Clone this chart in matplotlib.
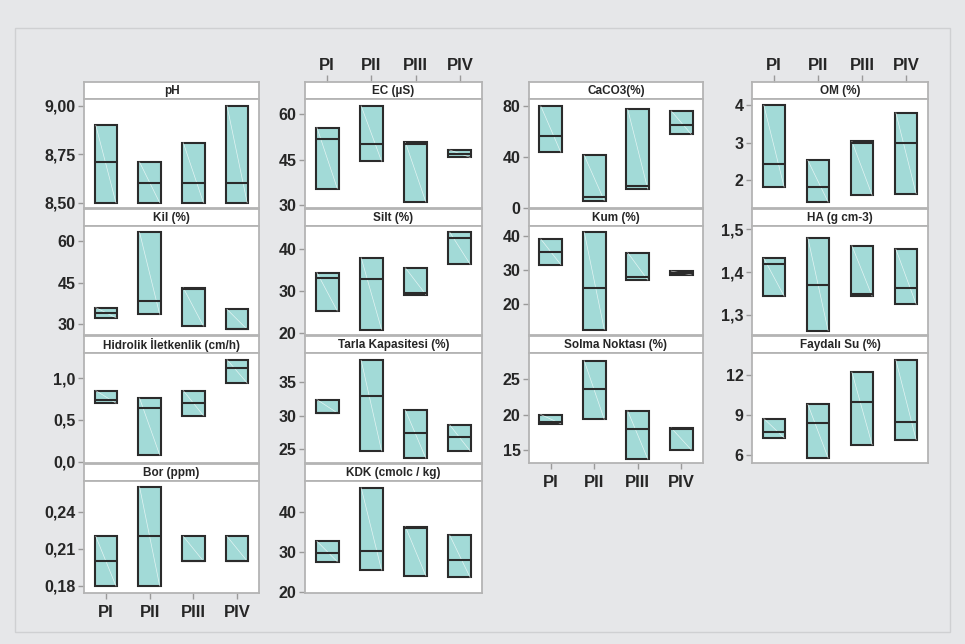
import numpy as np
import matplotlib.pyplot as plt
from matplotlib.patches import Rectangle

plt.rcParams['font.family'] = ['Liberation Sans', 'DejaVu Sans']

groups = ['PI', 'PII', 'PIII', 'PIV']

# alt sınır / medyan / üst sınır
ph_low = [8.50, 8.50, 8.50, 8.50]
ph_med = [8.71, 8.60, 8.60, 8.60]
ph_high = [8.90, 8.71, 8.81, 9.00]

kil_low = [32.4, 33.6, 29.4, 28.2]
kil_med = [34.1, 38.5, 42.7, 28.2]
kil_high = [36.0, 63.0, 43.1, 35.4]

hid_low = [0.70, 0.08, 0.55, 0.94]
hid_med = [0.74, 0.64, 0.70, 1.12]
hid_high = [0.85, 0.76, 0.85, 1.22]

bor_low = [0.18, 0.18, 0.20, 0.20]
bor_med = [0.20, 0.22, 0.20, 0.20]
bor_high = [0.22, 0.26, 0.22, 0.22]

ec_low = [35.5, 44.5, 31.1, 45.8]
ec_med = [51.8, 50.2, 50.3, 47.0]
ec_high = [55.6, 62.7, 50.7, 48.2]

silt_low = [25.3, 20.9, 29.2, 36.4]
silt_med = [33.2, 32.8, 29.5, 42.7]
silt_high = [34.4, 37.9, 35.5, 44.0]

tarla_low = [30.4, 24.7, 23.6, 24.7]
tarla_med = [30.4, 32.9, 27.4, 26.8]
tarla_high = [32.4, 38.3, 30.8, 28.6]

kdk_low = [27.5, 25.4, 24.0, 23.6]
kdk_med = [29.6, 30.1, 35.9, 27.8]
kdk_high = [32.6, 45.9, 36.2, 34.1]

caco3_low = [43.6, 5.5, 14.6, 57.7]
caco3_med = [56.6, 8.1, 17.4, 64.7]
caco3_high = [80.0, 41.1, 77.4, 76.1]

kum_low = [31.5, 12.5, 27.0, 28.5]
kum_med = [35.1, 24.8, 28.0, 29.0]
kum_high = [39.0, 41.0, 35.0, 29.6]

solma_low = [18.7, 19.3, 13.7, 15.0]
solma_med = [18.95, 23.6, 17.9, 17.9]
solma_high = [20.0, 27.6, 20.5, 18.1]

om_low = [1.82, 1.42, 1.60, 1.64]
om_med = [2.43, 1.82, 3.00, 3.00]
om_high = [4.00, 2.53, 3.04, 3.80]

ha_low = [1.344, 1.263, 1.344, 1.325]
ha_med = [1.420, 1.370, 1.350, 1.362]
ha_high = [1.432, 1.480, 1.462, 1.454]

fs_low = [7.29, 5.77, 6.76, 7.14]
fs_med = [7.75, 8.43, 9.95, 8.50]
fs_high = [8.73, 9.80, 12.23, 13.14]

# (sütun, satır, başlık, alt, medyan, üst, y sınırları, y çentikleri, etiketler)
panels = [
    (0, 0, 'pH', ph_low, ph_med, ph_high, (8.473, 9.036), [8.50, 8.75, 9.00], ['8,50', '8,75', '9,00']),
    (0, 1, 'Kil (%)', kil_low, kil_med, kil_high, (26.2, 65.3), [30, 45, 60], ['30', '45', '60']),
    (0, 2, 'Hidrolik İletkenlik (cm/h)', hid_low, hid_med, hid_high, (-0.016, 1.30), [0.0, 0.5, 1.0], ['0,0', '0,5', '1,0']),
    (0, 3, 'Bor (ppm)', bor_low, bor_med, bor_high, (0.1743, 0.2647), [0.18, 0.21, 0.24], ['0,18', '0,21', '0,24']),
    (1, 0, 'EC (µS)', ec_low, ec_med, ec_high, (29.1, 65.0), [30, 45, 60], ['30', '45', '60']),
    (1, 1, 'Silt (%)', silt_low, silt_med, silt_high, (19.6, 45.45), [20, 30, 40], ['20', '30', '40']),
    (1, 2, 'Tarla Kapasitesi (%)', tarla_low, tarla_med, tarla_high, (22.88, 39.4), [25, 30, 35], ['25', '30', '35']),
    (1, 3, 'KDK (cmolc / kg)', kdk_low, kdk_med, kdk_high, (19.7, 47.6), [20, 30, 40], ['20', '30', '40']),
    (2, 0, 'CaCO3(%)', caco3_low, caco3_med, caco3_high, (-0.3, 85.5), [0, 40, 80], ['0', '40', '80']),
    (2, 1, 'Kum (%)', kum_low, kum_med, kum_high, (10.9, 42.8), [20, 30, 40], ['20', '30', '40']),
    (2, 2, 'Solma Noktası (%)', solma_low, solma_med, solma_high, (13.14, 28.7), [15, 20, 25], ['15', '20', '25']),
    (3, 0, 'OM (%)', om_low, om_med, om_high, (1.26, 4.17), [2, 3, 4], ['2', '3', '4']),
    (3, 1, 'HA (g cm-3)', ha_low, ha_med, ha_high, (1.253, 1.508), [1.3, 1.4, 1.5], ['1,3', '1,4', '1,5']),
    (3, 2, 'Faydalı Su (%)', fs_low, fs_med, fs_high, (5.39, 13.67), [6, 9, 12], ['6', '9', '12']),
]

W, H = 965, 644
col_x = [(84, 259), (305, 482), (529, 703), (752, 928)]
strip_top = [82, 209, 336, 464]
strip_h = 17
row_bottom = [208, 335, 463, 593]

bg = '#e6e7e9'
frame = '#b4b4b4'
fill = '#a2dad7'
edge = '#2b2b2b'
txt = '#262626'


def px_axes(fig, x0, y0, x1, y1):
    return fig.add_axes([x0 / W, 1 - y1 / H, (x1 - x0) / W, (y1 - y0) / H])


fig = plt.figure(figsize=(W / 100, H / 100), dpi=100, facecolor=bg)
fig.patches.append(Rectangle((15 / W, 1 - 632 / H), 935 / W, 604 / H, transform=fig.transFigure,
                             fill=False, edgecolor='#cfd0d2', linewidth=1))

x = np.arange(1, 5)
bw = 0.52
last_row = {0: 3, 1: 3, 2: 2, 3: 2}

for col, row, title, lo, med, hi, ylim, yt, ytl in panels:
    x0, x1 = col_x[col]
    st = px_axes(fig, x0, strip_top[row], x1, strip_top[row] + strip_h)
    ax = px_axes(fig, x0, strip_top[row] + strip_h, x1, row_bottom[row])

    lo, med, hi = np.array(lo), np.array(med), np.array(hi)
    ax.bar(x, hi - lo, bottom=lo, width=bw, color=fill, edgecolor=edge, linewidth=1.5, zorder=2)
    ax.hlines(med, x - bw / 2, x + bw / 2, color=edge, linewidth=1.5, zorder=3)
    for xi, l, h in zip(x, lo, hi):
        ax.plot([xi - bw / 2 + 0.03, xi + bw / 2 - 0.03], [h, l], color='white', lw=0.5, alpha=0.7, zorder=2.5)

    ax.set_xlim(0.5, 4.5)
    ax.set_ylim(*ylim)
    ax.set_yticks(yt)
    ax.set_yticklabels(ytl, fontsize=11.5, fontweight='bold', color=txt)
    ax.tick_params(axis='y', length=4, width=1, color='#9a9a9a', pad=2)
    ax.set_facecolor('white')
    for s in ax.spines.values():
        s.set_color(frame)
        s.set_linewidth(1.3)

    if row == last_row[col] and col in (0, 2):
        ax.set_xticks(x)
        ax.set_xticklabels(groups, fontsize=12, fontweight='bold', color=txt)
        ax.tick_params(axis='x', length=4.5, width=1, color='#9a9a9a', pad=4)
    else:
        ax.set_xticks([])

    st.set_xlim(0.5, 4.5)
    st.set_yticks([])
    st.set_facecolor('white')
    for s in st.spines.values():
        s.set_color(frame)
        s.set_linewidth(1.3)
    if row == 0 and col in (1, 3):
        st.set_xticks(x)
        st.xaxis.tick_top()
        st.set_xticklabels(groups, fontsize=12, fontweight='bold', color=txt)
        st.tick_params(axis='x', length=5, width=1, color='#9a9a9a', pad=1.5)
    else:
        st.set_xticks([])
    st.text(0.5, 0.45, title, transform=st.transAxes, ha='center', va='center',
            fontsize=8.5, fontweight='bold', color=txt)

fig.savefig('out.png', dpi=100, facecolor=bg)
